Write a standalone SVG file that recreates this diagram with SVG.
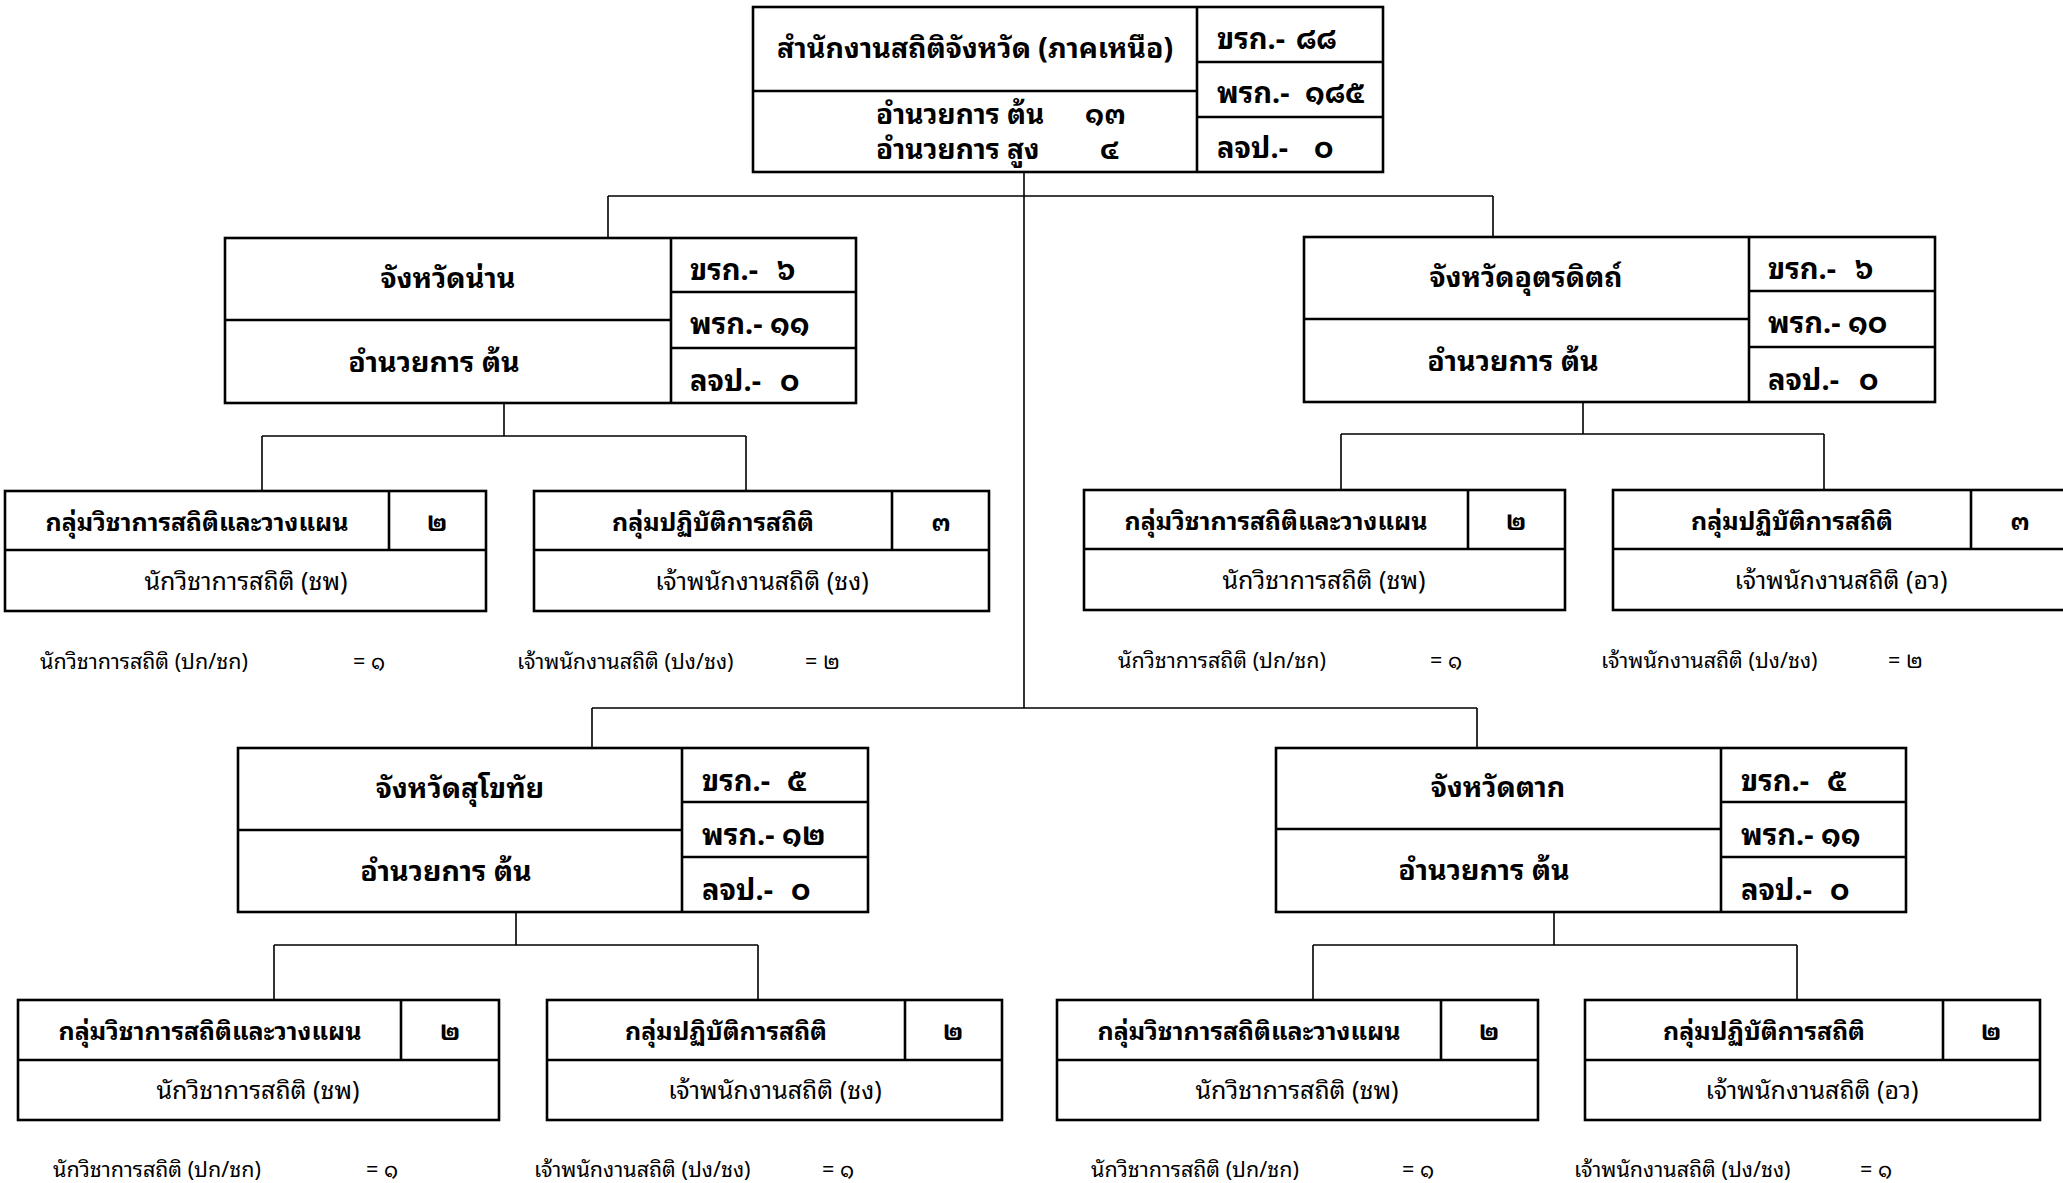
<svg xmlns="http://www.w3.org/2000/svg" width="2063" height="1183" viewBox="0 0 2063 1183">
<style>
text{font-family:"Noto Sans Thai Looped","Noto Serif Thai","Noto Sans Thai","Noto Sans",sans-serif;fill:#000}
.box{fill:#fff;stroke:#000;stroke-width:2.6}
.div{stroke:#000;stroke-width:2.6;fill:none}
.con{stroke:#000;stroke-width:1.6;fill:none}
.t1{font-size:28.5px;font-weight:bold;text-anchor:middle}
.t2{font-size:29px;font-weight:bold}
.t3{font-size:28px;font-weight:bold}
.c1{font-size:25px;font-weight:bold;text-anchor:middle}
.c2{font-size:25px;text-anchor:middle}
.nt{font-size:21.5px}
</style>
<rect width="2063" height="1183" fill="#fff"/>
<g id="connectors">
<path class="con" d="M1024 172V708M608 196H1493M608 196V238M1493 196V237M592 708H1477M592 708V748M1477 708V748"/>
<path class="con" d="M504 403V436M262 436H746M262 436V491M746 436V491"/>
<path class="con" d="M1583 402V434M1341 434H1824M1341 434V490M1824 434V490"/>
<path class="con" d="M516 912V945M274 945H758M274 945V1000M758 945V1000"/>
<path class="con" d="M1554 912V945M1313 945H1797M1313 945V1000M1797 945V1000"/>
</g>
<g id="n-top">
<rect class="box" x="753" y="7" width="630" height="165"/>
<path class="div" d="M1197 7V172M753 91H1197M1197 62H1383M1197 117H1383"/>
<text class="t1" x="975" y="58">สำนักงานสถิติจังหวัด (ภาคเหนือ)</text>
<text class="t3" x="876" y="124">อำนวยการ ต้น</text>
<text class="t3" x="1085" y="124">๑๓</text>
<text class="t3" x="876" y="159">อำนวยการ สูง</text>
<text class="t3" x="1100" y="159">๔</text>
<text class="t2" x="1217" y="49">ขรก.-</text><text class="t2" x="1296" y="49">๘๘</text>
<text class="t2" x="1217" y="103">พรก.-</text><text class="t2" x="1305" y="103">๑๘๕</text>
<text class="t2" x="1217" y="158">ลจป.-</text><text class="t2" x="1314" y="158">๐</text>
</g>
<g id="n-nan">
<rect class="box" x="225" y="238" width="631" height="165"/>
<path class="div" d="M671 238V403M225 320H671M671 292H856M671 348H856"/>
<text class="t1" x="448" y="288">จังหวัดน่าน</text>
<text class="t1" x="434" y="372">อำนวยการ ต้น</text>
<text class="t2" x="690" y="280">ขรก.-</text><text class="t2" x="777" y="280">๖</text>
<text class="t2" x="690" y="334">พรก.- ๑๑</text>
<text class="t2" x="690" y="391">ลจป.-</text><text class="t2" x="780" y="391">๐</text>
</g>
<g id="n-utt">
<rect class="box" x="1304" y="237" width="631" height="165"/>
<path class="div" d="M1749 237V402M1304 319H1749M1749 291H1935M1749 347H1935"/>
<text class="t1" x="1526" y="287">จังหวัดอุตรดิตถ์</text>
<text class="t1" x="1513" y="371">อำนวยการ ต้น</text>
<text class="t2" x="1768" y="279">ขรก.-</text><text class="t2" x="1855" y="279">๖</text>
<text class="t2" x="1768" y="333">พรก.- ๑๐</text>
<text class="t2" x="1768" y="390">ลจป.-</text><text class="t2" x="1859" y="390">๐</text>
</g>
<g id="n-suk">
<rect class="box" x="238" y="748" width="630" height="164"/>
<path class="div" d="M682 748V912M238 830H682M682 802H868M682 857H868"/>
<text class="t1" x="460" y="798">จังหวัดสุโขทัย</text>
<text class="t1" x="446" y="881">อำนวยการ ต้น</text>
<text class="t2" x="702" y="791">ขรก.-</text><text class="t2" x="787" y="791">๕</text>
<text class="t2" x="702" y="845">พรก.- ๑๒</text>
<text class="t2" x="702" y="900">ลจป.-</text><text class="t2" x="791" y="900">๐</text>
</g>
<g id="n-tak">
<rect class="box" x="1276" y="748" width="630" height="164"/>
<path class="div" d="M1721 748V912M1276 829H1721M1721 802H1906M1721 857H1906"/>
<text class="t1" x="1498" y="797">จังหวัดตาก</text>
<text class="t1" x="1484" y="880">อำนวยการ ต้น</text>
<text class="t2" x="1741" y="791">ขรก.-</text><text class="t2" x="1827" y="791">๕</text>
<text class="t2" x="1741" y="845">พรก.- ๑๑</text>
<text class="t2" x="1741" y="900">ลจป.-</text><text class="t2" x="1830" y="900">๐</text>
</g>
<g id="n-nan-plan">
<rect class="box" x="5" y="491" width="481" height="120"/>
<path class="div" d="M5 550H486M389 491V550"/>
<text class="c1" x="197" y="531">กลุ่มวิชาการสถิติและวางแผน</text>
<text class="c1" x="437" y="531">๒</text>
<text class="c2" x="246" y="590">นักวิชาการสถิติ (ชพ)</text>
<text class="nt" x="40" y="669">นักวิชาการสถิติ (ปก/ชก)</text>
<text class="nt" x="353" y="669">= ๑</text>
</g>
<g id="n-nan-ops">
<rect class="box" x="534" y="491" width="455" height="120"/>
<path class="div" d="M534 550H989M892 491V550"/>
<text class="c1" x="713" y="531">กลุ่มปฏิบัติการสถิติ</text>
<text class="c1" x="941" y="531">๓</text>
<text class="c2" x="762" y="590">เจ้าพนักงานสถิติ (ชง)</text>
<text class="nt" x="517" y="669">เจ้าพนักงานสถิติ (ปง/ชง)</text>
<text class="nt" x="805" y="669">= ๒</text>
</g>
<g id="n-utt-plan">
<rect class="box" x="1084" y="490" width="481" height="120"/>
<path class="div" d="M1084 549H1565M1468 490V549"/>
<text class="c1" x="1276" y="530">กลุ่มวิชาการสถิติและวางแผน</text>
<text class="c1" x="1516" y="530">๒</text>
<text class="c2" x="1324" y="589">นักวิชาการสถิติ (ชพ)</text>
<text class="nt" x="1118" y="668">นักวิชาการสถิติ (ปก/ชก)</text>
<text class="nt" x="1430" y="668">= ๑</text>
</g>
<g id="n-utt-ops">
<rect class="box" x="1613" y="490" width="455" height="120"/>
<path class="div" d="M1613 549H2068M1971 490V549"/>
<text class="c1" x="1792" y="530">กลุ่มปฏิบัติการสถิติ</text>
<text class="c1" x="2020" y="530">๓</text>
<text class="c2" x="1841" y="589">เจ้าพนักงานสถิติ (อว)</text>
<text class="nt" x="1601" y="668">เจ้าพนักงานสถิติ (ปง/ชง)</text>
<text class="nt" x="1888" y="668">= ๒</text>
</g>
<g id="n-suk-plan">
<rect class="box" x="18" y="1000" width="481" height="120"/>
<path class="div" d="M18 1060H499M401 1000V1060"/>
<text class="c1" x="210" y="1040">กลุ่มวิชาการสถิติและวางแผน</text>
<text class="c1" x="450" y="1040">๒</text>
<text class="c2" x="258" y="1099">นักวิชาการสถิติ (ชพ)</text>
<text class="nt" x="53" y="1177">นักวิชาการสถิติ (ปก/ชก)</text>
<text class="nt" x="366" y="1177">= ๑</text>
</g>
<g id="n-suk-ops">
<rect class="box" x="547" y="1000" width="455" height="120"/>
<path class="div" d="M547 1060H1002M905 1000V1060"/>
<text class="c1" x="726" y="1040">กลุ่มปฏิบัติการสถิติ</text>
<text class="c1" x="953" y="1040">๒</text>
<text class="c2" x="775" y="1099">เจ้าพนักงานสถิติ (ชง)</text>
<text class="nt" x="534" y="1177">เจ้าพนักงานสถิติ (ปง/ชง)</text>
<text class="nt" x="822" y="1177">= ๑</text>
</g>
<g id="n-tak-plan">
<rect class="box" x="1057" y="1000" width="481" height="120"/>
<path class="div" d="M1057 1060H1538M1441 1000V1060"/>
<text class="c1" x="1249" y="1040">กลุ่มวิชาการสถิติและวางแผน</text>
<text class="c1" x="1489" y="1040">๒</text>
<text class="c2" x="1297" y="1099">นักวิชาการสถิติ (ชพ)</text>
<text class="nt" x="1091" y="1177">นักวิชาการสถิติ (ปก/ชก)</text>
<text class="nt" x="1402" y="1177">= ๑</text>
</g>
<g id="n-tak-ops">
<rect class="box" x="1585" y="1000" width="455" height="120"/>
<path class="div" d="M1585 1060H2040M1943 1000V1060"/>
<text class="c1" x="1764" y="1040">กลุ่มปฏิบัติการสถิติ</text>
<text class="c1" x="1991" y="1040">๒</text>
<text class="c2" x="1812" y="1099">เจ้าพนักงานสถิติ (อว)</text>
<text class="nt" x="1574" y="1177">เจ้าพนักงานสถิติ (ปง/ชง)</text>
<text class="nt" x="1860" y="1177">= ๑</text>
</g>
</svg>
